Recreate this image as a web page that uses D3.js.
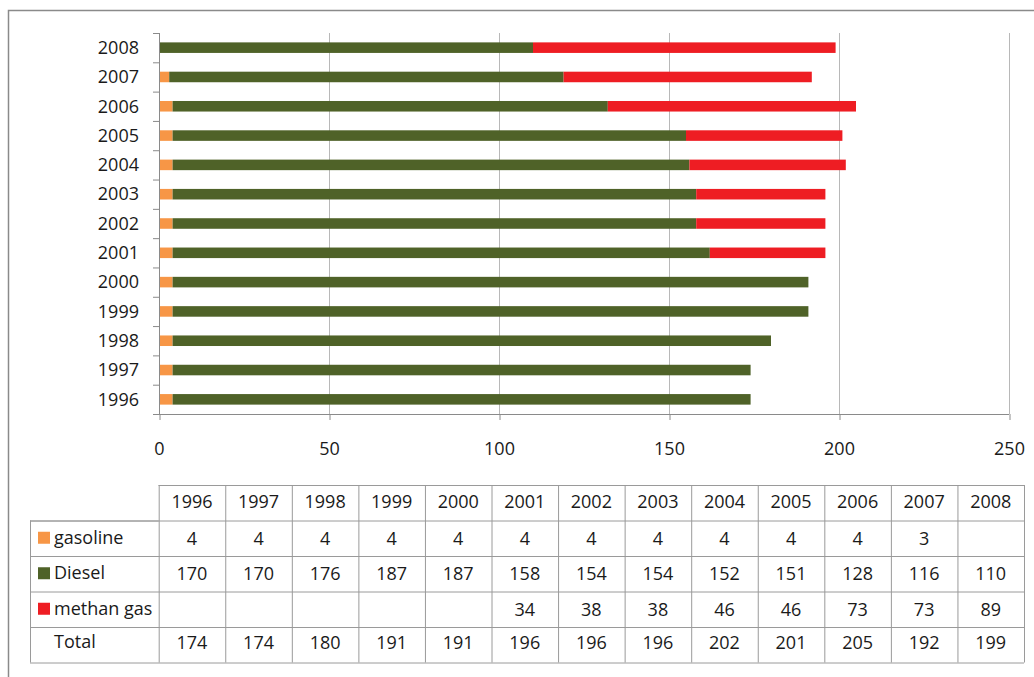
<!DOCTYPE html>
<html>
<head>
<meta charset="utf-8">
<script src="https://cdn.jsdelivr.net/npm/d3@7/dist/d3.min.js"></script>
<style>
  html, body { margin: 0; padding: 0; background: #fff; }
  svg { display: block; }
  text { font-family: "Open Sans", "Noto Sans", sans-serif; fill: #1a1a1a; }
</style>
</head>
<body>
<svg id="chart" width="1034" height="677"></svg>
<script>
// Vehicle fleet by fuel type, 1996–2008
const years    = [1996, 1997, 1998, 1999, 2000, 2001, 2002, 2003, 2004, 2005, 2006, 2007, 2008];
const gasoline = [4, 4, 4, 4, 4, 4, 4, 4, 4, 4, 4, 3, null];
const diesel   = [170, 170, 176, 187, 187, 158, 154, 154, 152, 151, 128, 116, 110];
const methane  = [null, null, null, null, null, 34, 38, 38, 46, 46, 73, 73, 89];
const totals   = [174, 174, 180, 191, 191, 196, 196, 196, 202, 201, 205, 192, 199];
const xTicks   = [0, 50, 100, 150, 200, 250];

const seriesNames  = ["gasoline", "Diesel", "methan gas"];
const seriesColors = ["#F79646", "#4F6228", "#EE1D23"];
const seriesValues = [gasoline, diesel, methane];

const svg = d3.select("#chart");

// outer frame
svg.append("rect")
  .attr("x", 8.5).attr("y", 10.5)
  .attr("width", 1060).attr("height", 700)
  .attr("fill", "none").attr("stroke", "#8a8a8a").attr("stroke-width", 1.5);

// ---- bar chart ----
const plot = { left: 159, right: 1009, top: 33, bottom: 414 };

const x = d3.scaleLinear().domain([0, 250]).range([plot.left, plot.right]);
// 2008 at the top, 1996 at the bottom
const y = d3.scaleBand().domain(years.slice().reverse()).range([plot.top, plot.bottom])
  .paddingInner(0.64).paddingOuter(0.32);

// vertical gridlines
svg.append("g").selectAll("line")
  .data(xTicks.filter(t => t > 0))
  .join("line")
  .attr("x1", d => x(d) + 0.5).attr("x2", d => x(d) + 0.5)
  .attr("y1", plot.top).attr("y2", plot.bottom)
  .attr("stroke", "#b8b8b8").attr("stroke-width", 1);

// stacked rows
const rows = years.map((yr, i) => {
  let acc = 0;
  return seriesValues.map((vals, s) => {
    const v = vals[i] || 0;
    const seg = { year: yr, s, x0: acc, x1: acc + v };
    acc += v;
    return seg;
  }).filter(d => d.x1 > d.x0);
}).flat();

svg.append("g").selectAll("rect")
  .data(rows)
  .join("rect")
  .attr("x", d => x(d.x0))
  .attr("width", d => x(d.x1) - x(d.x0))
  .attr("y", d => y(d.year))
  .attr("height", y.bandwidth())
  .attr("fill", d => seriesColors[d.s]);

// x axis
const xAxis = svg.append("g")
  .attr("transform", `translate(0,${plot.bottom})`)
  .call(d3.axisBottom(x).tickValues(xTicks).tickSize(6).tickPadding(22));
xAxis.select(".domain").attr("stroke", "#8a8a8a").attr("d", `M${plot.left},0.5H${plot.right}`);
xAxis.selectAll(".tick line").attr("stroke", "#8a8a8a").attr("transform", "translate(0.5,0)");
xAxis.selectAll(".tick text")
  .style("font-family", '"Open Sans", sans-serif').style("font-size", "18px").attr("fill", "#1a1a1a");

// y axis: line plus ticks between categories
const yAxis = svg.append("g");
yAxis.append("line")
  .attr("x1", plot.left + 0.5).attr("x2", plot.left + 0.5)
  .attr("y1", plot.top).attr("y2", plot.bottom)
  .attr("stroke", "#8a8a8a");
const step = y.step();
yAxis.selectAll("line.tk")
  .data(d3.range(years.length + 1))
  .join("line").attr("class", "tk")
  .attr("x1", plot.left - 6).attr("x2", plot.left)
  .attr("y1", i => plot.top + i * (plot.bottom - plot.top) / years.length + 0.5)
  .attr("y2", i => plot.top + i * (plot.bottom - plot.top) / years.length + 0.5)
  .attr("stroke", "#8a8a8a");
yAxis.selectAll("text")
  .data(years)
  .join("text")
  .attr("x", 139)
  .attr("y", d => y(d) + y.bandwidth() / 2)
  .attr("dy", "0.35em")
  .attr("text-anchor", "end")
  .style("font-size", "18px")
  .text(d => d);

// ---- data table ----
const tbl = { labelLeft: 30, left: 158.7, right: 1024, top: 485, rowH: 35.5 };
const col = d3.scaleBand().domain(years).range([tbl.left, tbl.right]);
const row = d3.scaleBand().domain(["head", ...seriesNames, "Total"])
  .range([tbl.top, tbl.top + tbl.rowH * 5]);

const table = svg.append("g").attr("stroke", "#9a9a9a").attr("stroke-width", 1);

// horizontal rules
["head", ...seriesNames, "Total"].forEach((r, i) => {
  const yy = row(r);
  table.append("line")
    .attr("x1", i === 0 ? tbl.left : tbl.labelLeft).attr("x2", tbl.right)
    .attr("y1", yy + 0.5).attr("y2", yy + 0.5);
  if (i === 1) {
    table.append("line").attr("x1", tbl.labelLeft).attr("x2", tbl.left)
      .attr("y1", yy + 0.5).attr("y2", yy + 0.5);
  }
});
table.append("line")
  .attr("x1", tbl.labelLeft).attr("x2", tbl.right)
  .attr("y1", row("Total") + row.bandwidth() + 0.5).attr("y2", row("Total") + row.bandwidth() + 0.5);
// top rule (header only)
table.append("line")
  .attr("x1", tbl.left).attr("x2", tbl.right)
  .attr("y1", tbl.top + 0.5).attr("y2", tbl.top + 0.5);

// vertical rules
const tblBottom = row("Total") + row.bandwidth();
table.append("line")
  .attr("x1", tbl.labelLeft + 0.5).attr("x2", tbl.labelLeft + 0.5)
  .attr("y1", row(seriesNames[0])).attr("y2", tblBottom);
years.forEach(yr => {
  table.append("line")
    .attr("x1", col(yr) + 0.5).attr("x2", col(yr) + 0.5)
    .attr("y1", tbl.top).attr("y2", tblBottom);
});
table.append("line")
  .attr("x1", tbl.right + 0.5).attr("x2", tbl.right + 0.5)
  .attr("y1", tbl.top).attr("y2", tblBottom);

const cellText = svg.append("g").style("font-size", "18px");
const cy = r => row(r) + row.bandwidth() / 2;

// header
cellText.selectAll("text.h")
  .data(years).join("text").attr("class", "h")
  .attr("x", d => col(d) + col.bandwidth() / 2)
  .attr("y", cy("head") - 1).attr("dy", "0.35em")
  .attr("text-anchor", "middle").text(d => d);

// series rows
seriesNames.forEach((name, s) => {
  svg.append("rect")
    .attr("x", 38).attr("y", cy(name) - 6.5)
    .attr("width", 12).attr("height", 12)
    .attr("fill", seriesColors[s]);
  cellText.append("text")
    .attr("x", 54).attr("y", cy(name) - 1).attr("dy", "0.35em")
    .text(name);
  cellText.selectAll(null)
    .data(years.map((yr, i) => ({ yr, v: seriesValues[s][i] })).filter(d => d.v != null))
    .join("text")
    .attr("x", d => col(d.yr) + col.bandwidth() / 2)
    .attr("y", cy(name)).attr("dy", "0.35em")
    .attr("text-anchor", "middle").text(d => d.v);
});

// totals row
cellText.append("text")
  .attr("x", 54).attr("y", cy("Total") - 3).attr("dy", "0.35em").text("Total");
cellText.selectAll("text.t")
  .data(years.map((yr, i) => ({ yr, v: totals[i] }))).join("text").attr("class", "t")
  .attr("x", d => col(d.yr) + col.bandwidth() / 2)
  .attr("y", cy("Total") - 2).attr("dy", "0.35em")
  .attr("text-anchor", "middle").text(d => d.v);
</script>
</body>
</html>
